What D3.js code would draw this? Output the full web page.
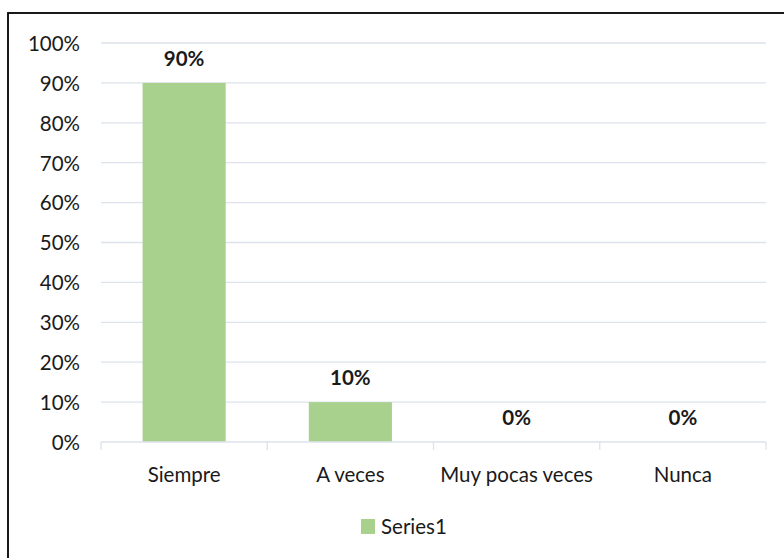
<!DOCTYPE html>
<html>
<head>
<meta charset="utf-8">
<script src="https://cdn.jsdelivr.net/npm/d3@7"></script>
<style>
  html, body { margin: 0; padding: 0; background: #fff; }
  svg { display: block; }
  text { font-family: "Lato", "Open Sans", sans-serif; }
</style>
</head>
<body>
<svg id="chart" width="784" height="558"></svg>
<script>
// Response categories and their shares
const categories = ["Siempre", "A veces", "Muy pocas veces", "Nunca"];
const values = [0.90, 0.10, 0.00, 0.00];
const yTicks = [0, 0.1, 0.2, 0.3, 0.4, 0.5, 0.6, 0.7, 0.8, 0.9, 1.0];
const seriesName = "Series1";

const svg = d3.select("#chart");
const W = 784, H = 558;
const plot = { left: 101, right: 766, top: 43, bottom: 442 };
const barColor = "#A9D18E";
const gridColor = "#DCE3EC";
const textColor = "#1a1a1a";
const fontSize = 20.5;

svg.append("rect").attr("width", W).attr("height", H).attr("fill", "#fff");

// Frame around the chart area (extends past the right and bottom edges)
svg.append("rect")
  .attr("x", 8).attr("y", 13)
  .attr("width", W + 10).attr("height", H + 10)
  .attr("fill", "none").attr("stroke", "#000").attr("stroke-width", 1.8);

const x = d3.scaleBand()
  .domain(categories)
  .range([plot.left, plot.right])
  .paddingInner(0.5).paddingOuter(0.25);

const y = d3.scaleLinear().domain([0, 1]).range([plot.bottom, plot.top]);

// Horizontal gridlines
svg.append("g").selectAll("line")
  .data(yTicks.filter(d => d > 0))
  .join("line")
  .attr("x1", plot.left).attr("x2", plot.right)
  .attr("y1", d => y(d)).attr("y2", d => y(d))
  .attr("stroke", gridColor).attr("stroke-width", 1.3);

// Y axis labels
const yAxis = d3.axisLeft(y).tickValues(yTicks).tickFormat(d3.format(".0%")).tickSize(0).tickPadding(0);
const gy = svg.append("g").attr("transform", `translate(${plot.left - 21},0)`).call(yAxis);
gy.select(".domain").remove();
gy.selectAll("text")
  .attr("font-size", fontSize).attr("fill", textColor)
  .attr("dy", "0.36em")
  .style("font-family", "Lato, 'Open Sans', sans-serif");

// Bars
svg.append("g").selectAll("rect")
  .data(categories.map((c, i) => ({ c, v: values[i] })))
  .join("rect")
  .attr("x", d => x(d.c))
  .attr("width", x.bandwidth())
  .attr("y", d => y(d.v))
  .attr("height", d => y(0) - y(d.v))
  .attr("fill", barColor);

// X axis baseline with category separators
const step = x.step();
const xAxisG = svg.append("g");
xAxisG.append("line")
  .attr("x1", plot.left).attr("x2", plot.right)
  .attr("y1", y(0)).attr("y2", y(0))
  .attr("stroke", gridColor).attr("stroke-width", 1.3);
xAxisG.selectAll("line.sep")
  .data(d3.range(categories.length + 1))
  .join("line").attr("class", "sep")
  .attr("x1", i => plot.left + i * step).attr("x2", i => plot.left + i * step)
  .attr("y1", y(0)).attr("y2", y(0) + 8)
  .attr("stroke", gridColor).attr("stroke-width", 1.3);

xAxisG.selectAll("text")
  .data(categories)
  .join("text")
  .attr("x", d => x(d) + x.bandwidth() / 2)
  .attr("y", 482)
  .attr("text-anchor", "middle")
  .attr("font-size", fontSize).attr("fill", textColor)
  .text(d => d);

// Value labels above bars
svg.append("g").selectAll("text")
  .data(categories.map((c, i) => ({ c, v: values[i] })))
  .join("text")
  .attr("x", d => x(d.c) + x.bandwidth() / 2)
  .attr("y", d => y(d.v) - 17)
  .attr("text-anchor", "middle")
  .attr("font-size", fontSize).attr("font-weight", "bold").attr("fill", textColor)
  .text(d => d3.format(".0%")(d.v));

// Legend
const lg = svg.append("g");
lg.append("rect").attr("x", 361).attr("y", 519).attr("width", 14).attr("height", 15).attr("fill", barColor);
lg.append("text").attr("x", 381).attr("y", 534)
  .attr("font-size", fontSize).attr("fill", textColor).text(seriesName);
</script>
</body>
</html>
